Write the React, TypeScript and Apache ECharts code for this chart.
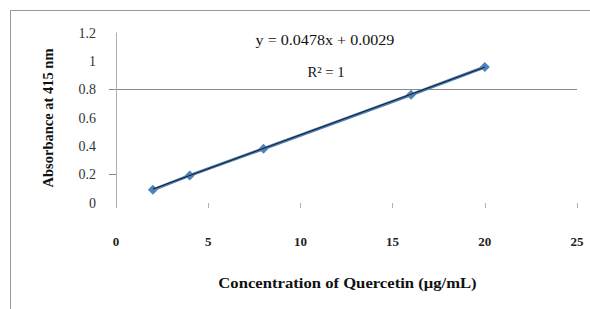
import React, { useEffect, useRef } from "react";
import * as echarts from "echarts";

const concentrations = [2, 4, 8, 16, 20];
const absorbances = [0.093, 0.195, 0.383, 0.764, 0.96];
const SLOPE = 0.0478;
const INTERCEPT = 0.0029;
const trendX = [2, 20];
const equationText = "y = 0.0478x + 0.0029";
const r2Text = "R² = 1";
const xTitle = "Concentration of Quercetin (μg/mL)";
const yTitle = "Absorbance at 415 nm";

const FONT = '"Liberation Serif", "Times New Roman", serif';

export default function App() {
  const ref = useRef<HTMLDivElement>(null);
  useEffect(() => {
    if (!ref.current) return;
    const chart = echarts.init(ref.current, null, { renderer: "svg" });
    const data = concentrations.map((x, i) => [x, absorbances[i]]);
    const trend = trendX.map((x) => [x, SLOPE * x + INTERCEPT]);
    chart.setOption({
      animation: false,
      backgroundColor: "#ffffff",
      grid: { left: 116, right: 13, top: 33, bottom: 106 },
      xAxis: {
        type: "value",
        min: 0,
        max: 25,
        interval: 5,
        offset: 2,
        axisLine: { show: false },
        axisTick: { show: true, length: 5, lineStyle: { color: "#b0b0b0", width: 1 } },
        axisLabel: { margin: 30, color: "#222", fontFamily: FONT, fontSize: 13, fontWeight: "bold" },
        splitLine: { show: false },
      },
      yAxis: {
        type: "value",
        min: 0,
        max: 1.2,
        interval: 0.2,
        axisLine: { show: true, lineStyle: { color: "#b0b0b0", width: 1 } },
        axisTick: { show: true, length: 7, customValues: [0.2, 0.8], lineStyle: { color: "#8a8a8a" } },
        axisLabel: {
          margin: 20,
          color: "#333",
          fontFamily: FONT,
          fontSize: 14,
          formatter: (v: number) => String(Math.round(v * 10) / 10),
        },
        splitLine: {
          show: true,
          lineStyle: {
            color: ["transparent", "#8a8a8a", "transparent", "transparent", "#8a8a8a", "transparent", "transparent"],
            width: 1,
          },
        },
        name: yTitle,
        nameLocation: "middle",
        nameGap: 61,
        nameTextStyle: { color: "#111", fontFamily: FONT, fontSize: 14.5, fontWeight: "bold" },
      },
      graphic: [
        {
          type: "rect",
          shape: { x: 10.5, y: 10.5, width: 600, height: 320 },
          style: { fill: "none", stroke: "#999", lineWidth: 1 },
          silent: true,
          z: -1,
        },
        {
          type: "text",
          x: 325,
          y: 40,
          scaleX: 1.15,
          style: {
            text: equationText,
            fontFamily: FONT,
            fontSize: 14,
            fill: "#111",
            align: "center",
            verticalAlign: "middle",
          },
        },
        {
          type: "text",
          x: 326,
          y: 72,
          scaleX: 1.05,
          style: {
            text: r2Text,
            fontFamily: FONT,
            fontSize: 14,
            fill: "#111",
            align: "center",
            verticalAlign: "middle",
          },
        },
        {
          type: "text",
          x: 347.5,
          y: 283,
          scaleX: 1.19,
          style: {
            text: xTitle,
            fontFamily: FONT,
            fontSize: 14,
            fontWeight: "bold",
            fill: "#111",
            align: "center",
            verticalAlign: "middle",
          },
        },
      ],
      series: [
        {
          type: "line",
          data,
          symbol: "diamond",
          symbolSize: 10,
          itemStyle: { color: "#4F81BD" },
          lineStyle: { color: "#4A7EBB", width: 3 },
          z: 2,
        },
        {
          type: "line",
          data: trend,
          symbol: "none",
          lineStyle: { color: "#1a1a1a", width: 1 },
          z: 3,
        },
      ],
    });
    return () => chart.dispose();
  }, []);
  return (
    <div
      ref={ref}
      style={{ position: "fixed", left: 0, top: 0, width: 590, height: 309 }}
    />
  );
}
